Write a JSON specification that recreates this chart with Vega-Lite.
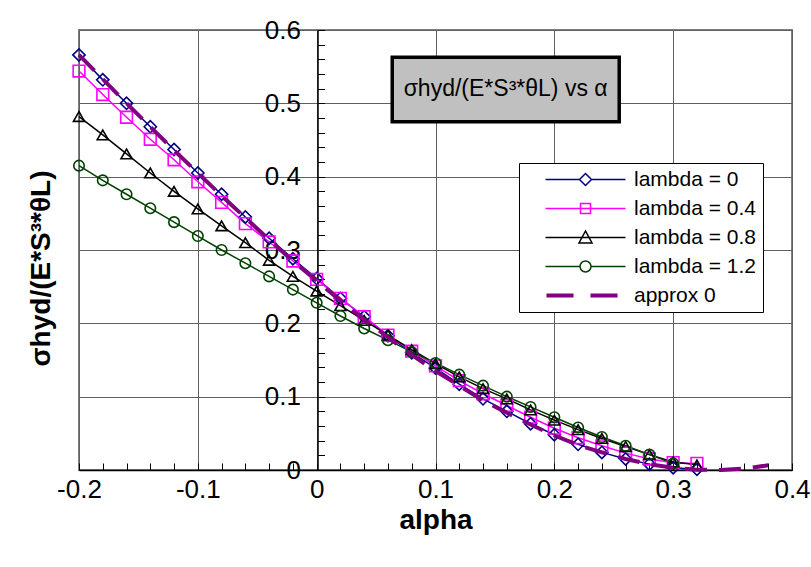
{
  "$schema": "https://vega.github.io/schema/vega-lite/v6.json",
  "width": 713,
  "height": 440,
  "autosize": {"type": "none"},
  "padding": {"left": 79, "top": 30, "right": 19, "bottom": 97},
  "background": "white",
  "config": {
    "font": "Liberation Sans",
    "view": {"stroke": "#808080", "strokeWidth": 2},
    "axis": {"labelFont": "Liberation Sans", "titleFont": "Liberation Sans", "labelColor": "black", "titleColor": "black"},
    "legend": {"labelFont": "Liberation Sans"}
  },
  "datasets": {
    "box": [{"x1": 0.0636, "x2": 0.2546, "y1": 0.563, "y2": 0.475, "tx": 0.159, "ty": 0.519, "label": "σhyd/(E*S³*θL) vs α"}],
    "series": [
      {"s": "lambda = 0", "a": -0.2, "v": 0.566}, {"s": "lambda = 0", "a": -0.18, "v": 0.532}, {"s": "lambda = 0", "a": -0.16, "v": 0.5}, {"s": "lambda = 0", "a": -0.14, "v": 0.468}, {"s": "lambda = 0", "a": -0.12, "v": 0.437}, {"s": "lambda = 0", "a": -0.1, "v": 0.405}, {"s": "lambda = 0", "a": -0.08, "v": 0.376}, {"s": "lambda = 0", "a": -0.06, "v": 0.345}, {"s": "lambda = 0", "a": -0.04, "v": 0.316}, {"s": "lambda = 0", "a": -0.02, "v": 0.288}, {"s": "lambda = 0", "a": 0, "v": 0.261}, {"s": "lambda = 0", "a": 0.02, "v": 0.234}, {"s": "lambda = 0", "a": 0.04, "v": 0.209}, {"s": "lambda = 0", "a": 0.06, "v": 0.183}, {"s": "lambda = 0", "a": 0.08, "v": 0.16}, {"s": "lambda = 0", "a": 0.1, "v": 0.139}, {"s": "lambda = 0", "a": 0.12, "v": 0.117}, {"s": "lambda = 0", "a": 0.14, "v": 0.097}, {"s": "lambda = 0", "a": 0.16, "v": 0.08}, {"s": "lambda = 0", "a": 0.18, "v": 0.063}, {"s": "lambda = 0", "a": 0.2, "v": 0.048}, {"s": "lambda = 0", "a": 0.22, "v": 0.035}, {"s": "lambda = 0", "a": 0.24, "v": 0.024}, {"s": "lambda = 0", "a": 0.26, "v": 0.015}, {"s": "lambda = 0", "a": 0.28, "v": 0.008}, {"s": "lambda = 0", "a": 0.3, "v": 0.003}, {"s": "lambda = 0", "a": 0.32, "v": 0.001},
      {"s": "lambda = 0.4", "a": -0.2, "v": 0.544}, {"s": "lambda = 0.4", "a": -0.18, "v": 0.512}, {"s": "lambda = 0.4", "a": -0.16, "v": 0.481}, {"s": "lambda = 0.4", "a": -0.14, "v": 0.451}, {"s": "lambda = 0.4", "a": -0.12, "v": 0.423}, {"s": "lambda = 0.4", "a": -0.1, "v": 0.393}, {"s": "lambda = 0.4", "a": -0.08, "v": 0.365}, {"s": "lambda = 0.4", "a": -0.06, "v": 0.336}, {"s": "lambda = 0.4", "a": -0.04, "v": 0.311}, {"s": "lambda = 0.4", "a": -0.02, "v": 0.285}, {"s": "lambda = 0.4", "a": 0, "v": 0.26}, {"s": "lambda = 0.4", "a": 0.02, "v": 0.234}, {"s": "lambda = 0.4", "a": 0.04, "v": 0.209}, {"s": "lambda = 0.4", "a": 0.06, "v": 0.184}, {"s": "lambda = 0.4", "a": 0.08, "v": 0.162}, {"s": "lambda = 0.4", "a": 0.1, "v": 0.142}, {"s": "lambda = 0.4", "a": 0.12, "v": 0.122}, {"s": "lambda = 0.4", "a": 0.14, "v": 0.104}, {"s": "lambda = 0.4", "a": 0.16, "v": 0.088}, {"s": "lambda = 0.4", "a": 0.18, "v": 0.072}, {"s": "lambda = 0.4", "a": 0.2, "v": 0.057}, {"s": "lambda = 0.4", "a": 0.22, "v": 0.044}, {"s": "lambda = 0.4", "a": 0.24, "v": 0.033}, {"s": "lambda = 0.4", "a": 0.26, "v": 0.023}, {"s": "lambda = 0.4", "a": 0.28, "v": 0.015}, {"s": "lambda = 0.4", "a": 0.3, "v": 0.01}, {"s": "lambda = 0.4", "a": 0.32, "v": 0.009},
      {"s": "lambda = 0.8", "a": -0.2, "v": 0.482}, {"s": "lambda = 0.8", "a": -0.18, "v": 0.457}, {"s": "lambda = 0.8", "a": -0.16, "v": 0.431}, {"s": "lambda = 0.8", "a": -0.14, "v": 0.405}, {"s": "lambda = 0.8", "a": -0.12, "v": 0.38}, {"s": "lambda = 0.8", "a": -0.1, "v": 0.356}, {"s": "lambda = 0.8", "a": -0.08, "v": 0.333}, {"s": "lambda = 0.8", "a": -0.06, "v": 0.31}, {"s": "lambda = 0.8", "a": -0.04, "v": 0.286}, {"s": "lambda = 0.8", "a": -0.02, "v": 0.264}, {"s": "lambda = 0.8", "a": 0, "v": 0.244}, {"s": "lambda = 0.8", "a": 0.02, "v": 0.224}, {"s": "lambda = 0.8", "a": 0.04, "v": 0.204}, {"s": "lambda = 0.8", "a": 0.06, "v": 0.184}, {"s": "lambda = 0.8", "a": 0.08, "v": 0.164}, {"s": "lambda = 0.8", "a": 0.1, "v": 0.145}, {"s": "lambda = 0.8", "a": 0.12, "v": 0.127}, {"s": "lambda = 0.8", "a": 0.14, "v": 0.111}, {"s": "lambda = 0.8", "a": 0.16, "v": 0.097}, {"s": "lambda = 0.8", "a": 0.18, "v": 0.082}, {"s": "lambda = 0.8", "a": 0.2, "v": 0.068}, {"s": "lambda = 0.8", "a": 0.22, "v": 0.055}, {"s": "lambda = 0.8", "a": 0.24, "v": 0.043}, {"s": "lambda = 0.8", "a": 0.26, "v": 0.032}, {"s": "lambda = 0.8", "a": 0.28, "v": 0.021}, {"s": "lambda = 0.8", "a": 0.3, "v": 0.011}, {"s": "lambda = 0.8", "a": 0.32, "v": 0.007},
      {"s": "lambda = 1.2", "a": -0.2, "v": 0.415}, {"s": "lambda = 1.2", "a": -0.18, "v": 0.395}, {"s": "lambda = 1.2", "a": -0.16, "v": 0.376}, {"s": "lambda = 1.2", "a": -0.14, "v": 0.357}, {"s": "lambda = 1.2", "a": -0.12, "v": 0.338}, {"s": "lambda = 1.2", "a": -0.1, "v": 0.319}, {"s": "lambda = 1.2", "a": -0.08, "v": 0.3}, {"s": "lambda = 1.2", "a": -0.06, "v": 0.282}, {"s": "lambda = 1.2", "a": -0.04, "v": 0.264}, {"s": "lambda = 1.2", "a": -0.02, "v": 0.246}, {"s": "lambda = 1.2", "a": 0, "v": 0.228}, {"s": "lambda = 1.2", "a": 0.02, "v": 0.21}, {"s": "lambda = 1.2", "a": 0.04, "v": 0.193}, {"s": "lambda = 1.2", "a": 0.06, "v": 0.177}, {"s": "lambda = 1.2", "a": 0.08, "v": 0.161}, {"s": "lambda = 1.2", "a": 0.1, "v": 0.146}, {"s": "lambda = 1.2", "a": 0.12, "v": 0.13}, {"s": "lambda = 1.2", "a": 0.14, "v": 0.115}, {"s": "lambda = 1.2", "a": 0.16, "v": 0.1}, {"s": "lambda = 1.2", "a": 0.18, "v": 0.086}, {"s": "lambda = 1.2", "a": 0.2, "v": 0.072}, {"s": "lambda = 1.2", "a": 0.22, "v": 0.058}, {"s": "lambda = 1.2", "a": 0.24, "v": 0.045}, {"s": "lambda = 1.2", "a": 0.26, "v": 0.033}, {"s": "lambda = 1.2", "a": 0.28, "v": 0.021}, {"s": "lambda = 1.2", "a": 0.3, "v": 0.009},
      {"s": "approx 0", "a": -0.2, "v": 0.566}, {"s": "approx 0", "a": -0.18, "v": 0.533}, {"s": "approx 0", "a": -0.16, "v": 0.5}, {"s": "approx 0", "a": -0.14, "v": 0.468}, {"s": "approx 0", "a": -0.12, "v": 0.436}, {"s": "approx 0", "a": -0.1, "v": 0.405}, {"s": "approx 0", "a": -0.08, "v": 0.374}, {"s": "approx 0", "a": -0.06, "v": 0.344}, {"s": "approx 0", "a": -0.04, "v": 0.314}, {"s": "approx 0", "a": -0.02, "v": 0.285}, {"s": "approx 0", "a": 0, "v": 0.258}, {"s": "approx 0", "a": 0.02, "v": 0.231}, {"s": "approx 0", "a": 0.04, "v": 0.205}, {"s": "approx 0", "a": 0.06, "v": 0.181}, {"s": "approx 0", "a": 0.08, "v": 0.157}, {"s": "approx 0", "a": 0.1, "v": 0.135}, {"s": "approx 0", "a": 0.12, "v": 0.115}, {"s": "approx 0", "a": 0.14, "v": 0.095}, {"s": "approx 0", "a": 0.16, "v": 0.078}, {"s": "approx 0", "a": 0.18, "v": 0.062}, {"s": "approx 0", "a": 0.2, "v": 0.047}, {"s": "approx 0", "a": 0.22, "v": 0.034}, {"s": "approx 0", "a": 0.24, "v": 0.024}, {"s": "approx 0", "a": 0.26, "v": 0.015}, {"s": "approx 0", "a": 0.28, "v": 0.008}, {"s": "approx 0", "a": 0.3, "v": 0.003}, {"s": "approx 0", "a": 0.32, "v": 0.0005}, {"s": "approx 0", "a": 0.34, "v": 0.0001}, {"s": "approx 0", "a": 0.36, "v": 0.002}, {"s": "approx 0", "a": 0.38, "v": 0.0064}
    ]
  },
  "layer": [
    {
      "data": {"name": "box"},
      "mark": {"type": "rect", "fill": "#c0c0c0", "stroke": "black", "strokeWidth": 3.5},
      "encoding": {
        "x": {"field": "x1", "type": "quantitative", "scale": {"domain": [-0.2, 0.4], "nice": false, "zero": false},
          "axis": {"values": [-0.2, -0.18, -0.16, -0.14, -0.12, -0.1, -0.08, -0.06, -0.04, -0.02, 0, 0.02, 0.04, 0.06, 0.08, 0.1, 0.12, 0.14, 0.16, 0.18, 0.2, 0.22, 0.24, 0.26, 0.28, 0.3, 0.32, 0.34, 0.36, 0.38, 0.4],
            "grid": true, "gridColor": "#606060", "gridWidth": 1,
            "gridOpacity": {"condition": {"test": "abs(datum.value * 10 - round(datum.value * 10)) < 0.001", "value": 1}, "value": 0},
            "ticks": true, "tickSize": -7, "tickColor": "black", "tickWidth": 1,
            "domain": true, "domainColor": "black", "domainWidth": 1.5,
            "labelFontSize": 26, "labelFlush": false, "labelPadding": 13, "labelOverlap": false,
            "labelExpr": "abs(datum.value * 10 - round(datum.value * 10)) < 0.001 ? (datum.value < -0.001 ? '-' + format(-datum.value, '.1~f') : format(abs(datum.value), '.1~f')) : ''",
            "title": "alpha", "titleFontSize": 28, "titleFontWeight": "bold", "titlePadding": 4}},
        "x2": {"field": "x2"},
        "y": {"field": "y1", "type": "quantitative", "scale": {"domain": [0, 0.6], "nice": false, "zero": false},
          "axis": {"orient": "left", "offset": -238.5,
            "values": [0, 0.02, 0.04, 0.06, 0.08, 0.1, 0.12, 0.14, 0.16, 0.18, 0.2, 0.22, 0.24, 0.26, 0.28, 0.3, 0.32, 0.34, 0.36, 0.38, 0.4, 0.42, 0.44, 0.46, 0.48, 0.5, 0.52, 0.54, 0.56, 0.58, 0.6],
            "grid": true, "gridColor": "#606060", "gridWidth": 1,
            "gridOpacity": {"condition": {"test": "abs(datum.value * 10 - round(datum.value * 10)) < 0.001", "value": 1}, "value": 0},
            "ticks": true, "tickSize": -7, "tickColor": "black", "tickWidth": 1,
            "domain": true, "domainColor": "black", "domainWidth": 1.5,
            "labelFontSize": 26, "labelPadding": 24, "labelOverlap": false,
            "labelExpr": "abs(datum.value * 10 - round(datum.value * 10)) < 0.001 ? format(datum.value, '.1~f') : ''",
            "title": "σhyd/(E*S³*θL)", "titleFontSize": 28, "titleFontWeight": "bold",
            "titleX": -262.5, "titleY": 238, "titleAngle": -90, "titleAlign": "center", "titleBaseline": "bottom"}},
        "y2": {"field": "y2"}
      }
    },
    {
      "data": {"name": "box"},
      "mark": {"type": "text", "fontSize": 23, "font": "Liberation Sans", "align": "center", "baseline": "middle", "color": "black"},
      "encoding": {
        "x": {"field": "tx", "type": "quantitative", "scale": {"domain": [-0.2, 0.4], "nice": false, "zero": false}, "axis": null},
        "y": {"field": "ty", "type": "quantitative", "scale": {"domain": [0, 0.6], "nice": false, "zero": false}, "axis": null},
        "text": {"field": "label"}
      }
    },
    {
      "data": {"name": "series"},
      "transform": [{"filter": "datum.s !== 'approx 0'"}],
      "mark": {"type": "line", "strokeWidth": 1.5},
      "encoding": {
        "x": {"field": "a", "type": "quantitative", "scale": {"domain": [-0.2, 0.4], "nice": false, "zero": false}, "axis": null},
        "y": {"field": "v", "type": "quantitative", "scale": {"domain": [0, 0.6], "nice": false, "zero": false}, "axis": null},
        "color": {"field": "s", "type": "nominal",
          "scale": {"domain": ["lambda = 0", "lambda = 0.4", "lambda = 0.8", "lambda = 1.2", "approx 0"], "range": ["#000080", "#ff00ff", "#000000", "#004000", "#800080"]},
          "legend": {"title": null, "orient": "none", "legendX": 440, "legendY": 133, "fillColor": "white", "strokeColor": "black", "padding": 6, "labelFontSize": 21, "labelColor": "black", "symbolSize": 400, "symbolOffset": 50, "labelOffset": 38, "rowPadding": 7,
            "encode": {"symbols": {"update": {
              "shape": {"signal": "datum.value === 'lambda = 0' ? 'M-4,0H-0.6M0.6,0H4M0,-0.6L0.6,0L0,0.6L-0.6,0Z' : datum.value === 'lambda = 0.4' ? 'M-4,0H4M-0.5,-0.5H0.5V0.5H-0.5Z' : datum.value === 'lambda = 0.8' ? 'M-4,0H4M0,-0.65L0.65,0.55H-0.65Z' : datum.value === 'lambda = 1.2' ? 'M-4,0H-0.55M0.55,0H4M-0.55,0A0.55,0.55,0,1,0,0.55,0A0.55,0.55,0,1,0,-0.55,0Z' : 'M-3.9,0H-1.2M0.5,0H3.2'"},
              "size": {"value": 400},
              "strokeWidth": {"signal": "datum.value === 'approx 0' ? 4 : 1.5"},
              "fill": {"value": "transparent"},
              "opacity": {"value": 1}
            }}}
          }
        }
      }
    },
    {
      "data": {"name": "series"},
      "transform": [{"filter": "datum.s !== 'approx 0'"}],
      "mark": {"type": "point", "filled": false, "strokeWidth": 1.6, "opacity": 1},
      "encoding": {
        "x": {"field": "a", "type": "quantitative", "scale": {"domain": [-0.2, 0.4], "nice": false, "zero": false}, "axis": null},
        "y": {"field": "v", "type": "quantitative", "scale": {"domain": [0, 0.6], "nice": false, "zero": false}, "axis": null},
        "color": {"field": "s", "type": "nominal"},
        "shape": {"field": "s", "type": "nominal", "scale": {"domain": ["lambda = 0", "lambda = 0.4", "lambda = 0.8", "lambda = 1.2"], "range": ["diamond", "square", "triangle-up", "circle"]}, "legend": null},
        "size": {"field": "s", "type": "nominal", "scale": {"domain": ["lambda = 0", "lambda = 0.4", "lambda = 0.8", "lambda = 1.2"], "range": [150, 110, 150, 170]}, "legend": null}
      }
    },
    {
      "data": {"name": "series"},
      "transform": [{"filter": "datum.s === 'approx 0'"}],
      "mark": {"type": "line", "strokeWidth": 4, "strokeDash": [22, 12]},
      "encoding": {
        "x": {"field": "a", "type": "quantitative", "scale": {"domain": [-0.2, 0.4], "nice": false, "zero": false}, "axis": null},
        "y": {"field": "v", "type": "quantitative", "scale": {"domain": [0, 0.6], "nice": false, "zero": false}, "axis": null},
        "color": {"field": "s", "type": "nominal"}
      }
    }
  ],
  "resolve": {"axis": {"x": "independent", "y": "independent"}}
}
